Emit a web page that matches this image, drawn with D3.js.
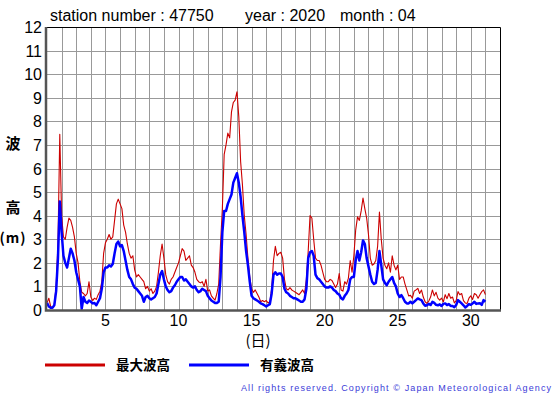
<!DOCTYPE html>
<html>
<head>
<meta charset="utf-8">
<script src="https://cdn.jsdelivr.net/npm/d3@7"></script>
<style>
  body { margin: 0; background: #fff; }
  svg { display: block; }
  text { font-family: "Liberation Sans", Arial, sans-serif; }
  .jp { font-family: "Noto Sans CJK JP", sans-serif; font-weight: bold; }
  .jp.light { font-weight: normal; }
</style>
</head>
<body>
<div id="chart"></div>
<script>
// April 2020, station 47750, one reading every 3 hours (8 per day, day 1 00h .. day 31 00h)
var maxWave = [
  0.3, 0.5, 0.15, 0.1, 0.2, 1.0, 2.8, 7.45,
  4.0, 3.1, 3.0, 3.5, 3.9, 3.8, 3.5, 3.1,
  2.4, 2.0, 1.2, 0.75, 0.7, 0.6, 0.7, 1.2,
  0.55, 0.4, 0.5, 0.45, 0.65, 0.8, 1.2, 2.4,
  2.85, 3.0, 3.2, 3.0, 3.1, 3.8, 4.5, 4.7,
  4.5, 4.3, 3.6, 3.3, 2.8, 2.4, 2.2, 2.3,
  1.7, 1.4, 1.5, 1.4, 1.3, 1.2, 0.9, 1.0,
  0.8, 0.9, 0.7, 0.8, 1.0, 1.6, 2.3, 2.8,
  2.2, 1.5, 1.2, 1.1, 1.3, 1.4, 1.6, 1.8,
  2.0, 2.3, 2.6, 2.5, 2.1, 2.2, 2.3, 1.9,
  1.8, 1.6, 1.3, 1.2, 1.15, 1.2, 1.0, 1.3,
  0.8, 0.85, 0.6, 0.5, 0.42, 0.7, 1.1, 2.8,
  4.3, 6.6, 7.0, 7.5, 7.3, 8.4, 8.8, 8.9,
  9.25, 8.2, 6.3, 5.3, 4.0, 3.2, 2.2, 1.4,
  0.9, 0.75, 0.85, 0.7, 0.55, 0.35, 0.4, 0.35,
  0.4, 0.3, 0.35, 0.9, 2.1, 2.7, 2.3, 2.4,
  2.45, 2.2, 1.3, 0.9, 0.85, 0.95, 0.85, 0.8,
  0.75, 0.7, 0.65, 0.75, 0.85, 0.7, 1.3, 2.5,
  4.0, 3.9, 3.0, 2.2, 2.1, 2.1, 1.9, 1.6,
  1.3, 1.2, 1.2, 1.3, 1.25, 1.1, 0.95, 1.1,
  1.55, 0.85, 0.8, 1.2, 1.1, 1.35, 2.1, 1.6,
  2.3, 3.4, 3.95, 3.8, 4.2, 4.75, 4.3, 3.9,
  3.2, 2.2, 1.9, 1.95, 2.1, 2.7, 4.15, 3.0,
  2.2, 1.9, 1.75, 2.0, 1.6, 2.3, 1.9, 1.7,
  1.9, 1.3, 1.4, 1.4, 1.1, 0.85, 0.6, 0.62,
  0.5, 0.8, 0.85, 0.92, 0.7, 0.85, 0.55, 0.35,
  0.28, 0.38, 0.55, 0.85, 0.6, 0.75, 0.5, 0.42,
  0.5, 0.35, 0.65, 0.48, 0.7, 0.5, 0.55, 0.3,
  0.4, 0.78, 0.65, 0.7, 0.4, 0.3, 0.28, 0.5,
  0.6, 0.45, 0.7, 0.65, 0.5, 0.65, 0.78, 0.85,
  0.65
];

var sigWave = [
  0.3, 0.15, 0.1, 0.1, 0.2, 0.8, 2.2, 4.6,
  3.3, 2.3, 2.0, 1.8, 2.2, 2.6, 2.4, 2.1,
  1.6, 1.3, 1.0, 0.05, 0.55, 0.35, 0.3, 0.4,
  0.35, 0.28, 0.3, 0.2, 0.35, 0.5, 0.9, 1.6,
  1.8, 1.8, 1.9, 1.85, 1.95, 2.4, 2.8, 2.9,
  2.7, 2.75, 2.5, 2.1, 1.7, 1.4, 1.3, 1.1,
  0.95, 0.9, 0.8, 0.7, 0.6, 0.35, 0.55, 0.6,
  0.5, 0.45, 0.5, 0.55, 0.7, 1.1, 1.5, 1.65,
  1.3, 1.0, 0.85, 0.75, 0.8, 0.95, 1.05, 1.2,
  1.3, 1.4, 1.4, 1.25, 1.3, 1.2, 1.1, 1.0,
  0.95, 1.0, 0.85, 0.75, 0.8, 0.9, 0.85, 0.8,
  0.6, 0.5, 0.4, 0.35, 0.3, 0.3, 0.35, 1.4,
  3.3, 4.2, 4.2, 4.5, 4.7, 4.9, 5.4, 5.6,
  5.8, 5.4, 4.8, 4.0, 3.3, 2.5, 1.9, 1.2,
  0.6, 0.5, 0.45, 0.4, 0.35, 0.28, 0.25, 0.2,
  0.15, 0.2, 0.25, 0.7, 1.5, 1.6, 1.5, 1.55,
  1.55, 1.4, 0.9, 0.75, 0.7, 0.6, 0.55, 0.5,
  0.5, 0.45, 0.4, 0.35, 0.35, 0.45, 0.9, 2.2,
  2.45, 2.5, 2.3, 1.5, 1.35, 1.3, 1.2, 1.1,
  1.0, 0.95, 0.95, 1.0, 0.95, 0.85, 0.8, 0.7,
  0.65, 0.5, 0.45, 0.6, 0.7, 0.85, 1.3, 1.4,
  1.4, 2.1, 2.5, 2.1, 2.45, 2.95, 2.8, 2.2,
  1.85, 1.5, 1.2, 1.1, 1.15, 1.7, 2.5, 1.9,
  1.3, 1.15, 1.05, 1.2, 1.3, 1.4, 1.15, 1.0,
  0.7, 0.55, 0.63, 0.5, 0.35, 0.28, 0.28, 0.35,
  0.28, 0.35, 0.42, 0.49, 0.45, 0.42, 0.28, 0.18,
  0.2, 0.26, 0.21, 0.35, 0.3, 0.22, 0.2, 0.24,
  0.17, 0.26, 0.28, 0.21, 0.25, 0.17, 0.17, 0.12,
  0.21, 0.42, 0.35, 0.28, 0.2, 0.11, 0.17, 0.25,
  0.22, 0.28, 0.35, 0.26, 0.28, 0.29, 0.22, 0.42,
  0.35
];

var xTickLabels = [5, 10, 15, 20, 25, 30];
var yTickLabels = [0, 1, 2, 3, 4, 5, 6, 7, 8, 9, 10, 11, 12];
var seriesNames = ["最大波高", "有義波高"];
var seriesColors = ["#cc0000", "#0000ff"];

var W = 555, H = 395;
var plotLeft = 47, plotRight = 500, plotTop = 27, plotBottom = 310;

var svg = d3.select("#chart").append("svg")
    .attr("width", W)
    .attr("height", H);

var x = d3.scaleLinear().domain([1, 32]).range([plotLeft, plotRight]);
var y = d3.scaleLinear().domain([0, 12]).range([plotBottom, plotTop]);

// grid
var grid = svg.append("g").attr("stroke", "#999").attr("stroke-width", 1);
grid.selectAll("line.v")
    .data(d3.range(2, 32))
    .enter().append("line")
    .attr("class", "v")
    .attr("x1", function (d) { return Math.round(x(d)) + 0.5; })
    .attr("x2", function (d) { return Math.round(x(d)) + 0.5; })
    .attr("y1", plotTop)
    .attr("y2", plotBottom);
grid.selectAll("line.h")
    .data(d3.range(1, 12))
    .enter().append("line")
    .attr("class", "h")
    .attr("x1", plotLeft)
    .attr("x2", plotRight)
    .attr("y1", function (d) { return Math.round(y(d)) + 0.5; })
    .attr("y2", function (d) { return Math.round(y(d)) + 0.5; });

// frame: thin black top/right
svg.append("path")
    .attr("d", "M" + plotLeft + "," + (plotTop + 0.5) + "H" + (plotRight + 0.5) + "V" + plotBottom)
    .attr("fill", "none")
    .attr("stroke", "#000")
    .attr("stroke-width", 1);

// series
var line = d3.line()
    .x(function (d, i) { return x(1 + i / 8); })
    .y(function (d) { return y(d); });

svg.append("path")
    .datum(maxWave)
    .attr("d", line)
    .attr("fill", "none")
    .attr("stroke", seriesColors[0])
    .attr("stroke-width", 1.1)
    .attr("stroke-linejoin", "round");

svg.append("path")
    .datum(sigWave)
    .attr("d", line)
    .attr("fill", "none")
    .attr("stroke", seriesColors[1])
    .attr("stroke-width", 2.5)
    .attr("stroke-linejoin", "round");

// thick grey left/bottom axis lines
svg.append("path")
    .attr("d", "M" + (plotLeft - 1) + "," + plotTop + "V" + (plotBottom + 0.5) + "H" + (plotRight + 1))
    .attr("fill", "none")
    .attr("stroke", "#555")
    .attr("stroke-width", 2.5);

// tick labels
svg.append("g").selectAll("text")
    .data(yTickLabels)
    .enter().append("text")
    .attr("x", 42)
    .attr("y", function (d) { return y(d) + 6; })
    .attr("text-anchor", "end")
    .attr("font-size", 16)
    .text(function (d) { return d; });

svg.append("g").selectAll("text")
    .data(xTickLabels)
    .enter().append("text")
    .attr("x", function (d) { return x(d); })
    .attr("y", 326)
    .attr("text-anchor", "middle")
    .attr("font-size", 16)
    .text(function (d) { return d; });

// title
svg.append("text").attr("x", 50).attr("y", 21).attr("font-size", 16).text("station number : 47750");
svg.append("text").attr("x", 245).attr("y", 21).attr("font-size", 16).text("year : 2020");
svg.append("text").attr("x", 340).attr("y", 21).attr("font-size", 16).text("month : 04");

// axis titles
svg.append("text").attr("class", "jp").attr("x", 13).attr("y", 149)
    .attr("text-anchor", "middle").attr("font-size", 15).text("波");
svg.append("text").attr("class", "jp").attr("x", 13).attr("y", 213)
    .attr("text-anchor", "middle").attr("font-size", 15).text("高");
svg.append("text").attr("class", "jp").attr("x", 13).attr("y", 243)
    .attr("text-anchor", "middle").attr("font-size", 14).attr("letter-spacing", 1).text("(m)");
svg.append("text").attr("class", "jp light").attr("x", 258).attr("y", 346)
    .attr("text-anchor", "middle").attr("font-size", 15).text("(日)");

// legend
var legend = svg.append("g").selectAll("g")
    .data(seriesNames)
    .enter().append("g")
    .attr("transform", function (d, i) { return "translate(" + (45 + i * 144) + ",365)"; });
legend.append("line")
    .attr("x1", 0).attr("x2", 60)
    .attr("stroke", function (d, i) { return seriesColors[i]; })
    .attr("stroke-width", 3);
legend.append("text")
    .attr("class", "jp")
    .attr("x", 71)
    .attr("y", 5)
    .attr("font-size", 13.5)
    .text(function (d) { return d; });

// copyright
svg.append("text")
    .attr("x", 241)
    .attr("y", 391)
    .attr("font-family", "DejaVu Sans, Verdana, sans-serif")
    .attr("font-size", 9)
    .attr("fill", "#3c3cd8")
    .attr("textLength", 310)
    .attr("lengthAdjust", "spacing")
    .text("All rights reserved. Copyright © Japan Meteorological Agency");
</script>
</body>
</html>
